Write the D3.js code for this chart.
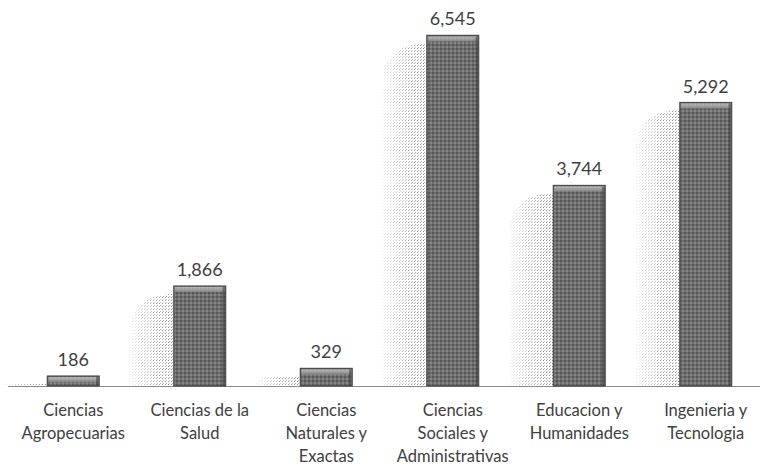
<!DOCTYPE html>
<html>
<head>
<meta charset="utf-8">
<script src="https://cdn.jsdelivr.net/npm/d3@7"></script>
<style>
  body { margin: 0; background: #fff; }
  svg text { font-family: Lato, "Open Sans", sans-serif; fill: #404040; }
</style>
</head>
<body>
<svg id="chart" width="760" height="467"></svg>
<script>
// datos del grafico
const categories = [
  ["Ciencias", "Agropecuarias"],
  ["Ciencias de la", "Salud"],
  ["Ciencias", "Naturales y", "Exactas"],
  ["Ciencias", "Sociales y", "Administrativas"],
  ["Educacion y", "Humanidades"],
  ["Ingenieria y", "Tecnologia"]
];
const values = [186, 1866, 329, 6545, 3744, 5292];
const valueLabels = ["186", "1,866", "329", "6,545", "3,744", "5,292"];

const svg = d3.select("#chart");
const baseY = 386;

const x = d3.scaleBand()
  .domain(d3.range(values.length))
  .range([10, 769])
  .paddingInner(0.59)
  .paddingOuter(0.295);

const y = d3.scaleLinear().domain([0, 7000]).range([baseY, 11]);

const defs = svg.append("defs");

// patron punteado para la sombra
const dots = defs.append("pattern")
  .attr("id", "dots")
  .attr("width", 3).attr("height", 3)
  .attr("patternUnits", "userSpaceOnUse");
dots.append("rect").attr("width", 3).attr("height", 3).attr("fill", "#fff");
dots.append("rect").attr("width", 1).attr("height", 1).attr("fill", "#8a8a8a");
dots.append("rect").attr("x", 1).attr("y", 2).attr("width", 1).attr("height", 1).attr("fill", "#b0b0b0");

// degradado horizontal para que la sombra se desvanezca a la izquierda
const fade = defs.append("linearGradient").attr("id", "fade")
  .attr("x1", 0).attr("x2", 1).attr("y1", 0).attr("y2", 0);
fade.append("stop").attr("offset", "0%").attr("stop-color", "#fff").attr("stop-opacity", 0.9);
fade.append("stop").attr("offset", "55%").attr("stop-color", "#fff").attr("stop-opacity", 0.3);
fade.append("stop").attr("offset", "100%").attr("stop-color", "#fff").attr("stop-opacity", 0);

// textura de la barra
const tex = defs.append("pattern")
  .attr("id", "tex")
  .attr("width", 4).attr("height", 4)
  .attr("patternUnits", "userSpaceOnUse");
tex.append("rect").attr("width", 4).attr("height", 4).attr("fill", "#6e6e6e");
tex.append("rect").attr("width", 2).attr("height", 2).attr("fill", "#585858");
tex.append("rect").attr("x", 2).attr("y", 2).attr("width", 2).attr("height", 2).attr("fill", "#858585");

// degradado del bisel superior
const bevel = defs.append("linearGradient").attr("id", "bevel")
  .attr("x1", 0).attr("x2", 0).attr("y1", 0).attr("y2", 1);
bevel.append("stop").attr("offset", "0%").attr("stop-color", "#c4c4c4");
bevel.append("stop").attr("offset", "100%").attr("stop-color", "#8a8a8a");

const bw = x.bandwidth();
const shadowW = 44;

// sombras
const sh = svg.append("g");
values.forEach((v, i) => {
  const x0 = x(i);
  const top = y(v) + 8;
  const h = baseY - top;
  const r = Math.min(shadowW, h);
  const path = d3.path();
  path.moveTo(x0, baseY);
  path.lineTo(x0 - shadowW, baseY);
  path.lineTo(x0 - shadowW, top + r);
  path.quadraticCurveTo(x0 - shadowW, top, x0 - shadowW + r, top);
  path.lineTo(x0, top);
  path.closePath();
  sh.append("path").attr("d", path.toString()).attr("fill", "url(#dots)");
  sh.append("path").attr("d", path.toString()).attr("fill", "url(#fade)");
});

// eje
svg.append("line")
  .attr("x1", 8).attr("x2", 760)
  .attr("y1", baseY + 0.5).attr("y2", baseY + 0.5)
  .attr("stroke", "#8c8c8c").attr("stroke-width", 1);

// barras
const bars = svg.append("g").selectAll("g").data(values).join("g");
bars.append("rect")
  .attr("x", (d, i) => x(i))
  .attr("y", d => y(d))
  .attr("width", bw)
  .attr("height", d => baseY - y(d))
  .attr("fill", "url(#tex)")
  .attr("stroke", "#4a4a4a")
  .attr("stroke-width", 1.2);
// bisel superior
bars.append("rect")
  .attr("x", (d, i) => x(i) + 1)
  .attr("y", d => y(d) + 1)
  .attr("width", bw - 2)
  .attr("height", 5)
  .attr("fill", "url(#bevel)")
  .attr("opacity", 0.85);
bars.append("rect")
  .attr("x", (d, i) => x(i) + bw - 3)
  .attr("y", d => y(d) + 1)
  .attr("width", 2)
  .attr("height", d => baseY - y(d) - 1)
  .attr("fill", "#3c3c3c")
  .attr("opacity", 0.6);

// etiquetas de valor
svg.append("g").selectAll("text").data(values).join("text")
  .attr("x", (d, i) => x(i) + bw / 2)
  .attr("y", d => y(d) - 10)
  .attr("text-anchor", "middle")
  .attr("font-size", 18)
  .text((d, i) => valueLabels[i]);

// categorias
const cat = svg.append("g").selectAll("text").data(categories).join("text")
  .attr("text-anchor", "middle")
  .attr("font-size", 16.5);
cat.each(function (lines, i) {
  d3.select(this).selectAll("tspan").data(lines).join("tspan")
    .attr("x", x(i) + bw / 2)
    .attr("y", (l, j) => 416 + j * 23)
    .text(l => l);
});
</script>
</body>
</html>
